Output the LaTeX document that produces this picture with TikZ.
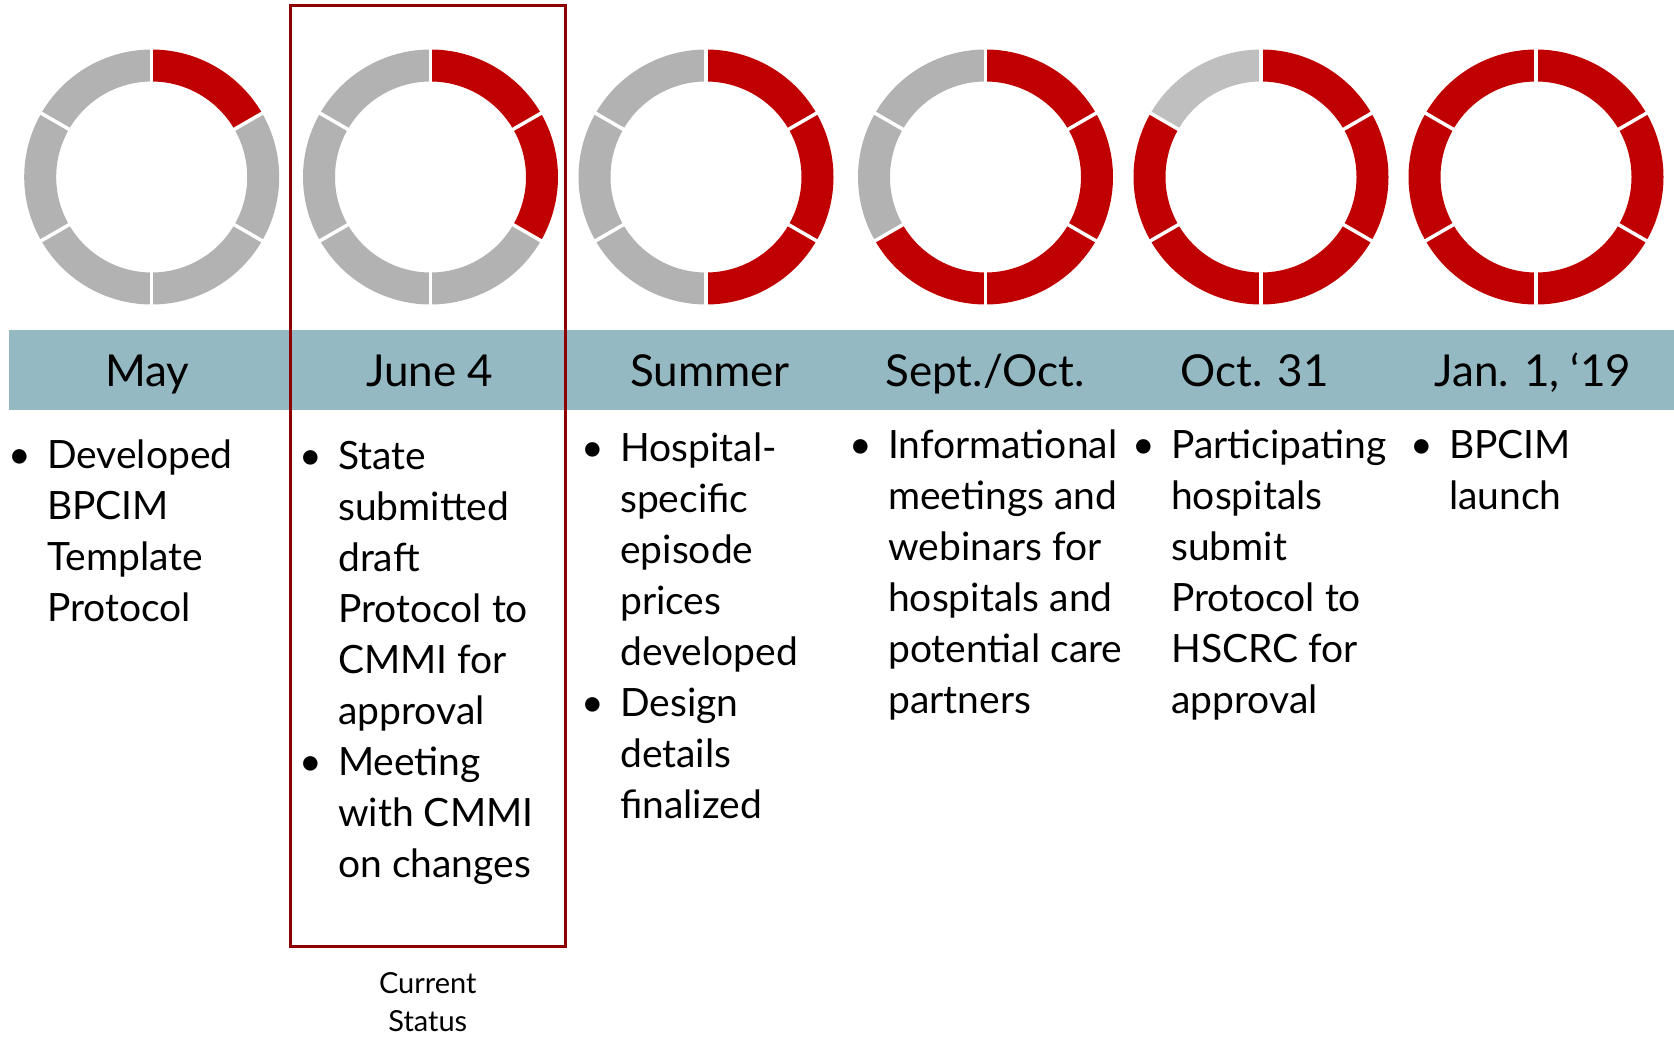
\documentclass[tikz,border=0pt]{standalone}
\usepackage{fontspec}
\setmainfont{Lato}
\usetikzlibrary{positioning}
\definecolor{ringred}{HTML}{C00000}
\definecolor{ringgray}{HTML}{B2B2B2}
\definecolor{ringlight}{HTML}{BFBFBF}
\definecolor{barblue}{HTML}{95B9C3}
\definecolor{boxred}{HTML}{8E0000}
\newcommand{\itm}{\leavevmode\strut\llap{\textbullet\hspace{16pt}}}
\tikzset{
  month/.style={anchor=base,inner sep=0pt,font=\fontsize{44}{50}\selectfont},
  steps/.style={anchor=north west,inner sep=0pt,align=left,
                font=\fontsize{39}{51}\selectfont},
  statusbox/.style={draw=boxred,line width=3pt,minimum width=274.5pt,
                    minimum height=940.5pt,inner sep=0pt},
  note/.style={align=center,inner sep=0pt,font=\fontsize{29}{37.5}\selectfont}
}

\begin{document}
\begin{tikzpicture}[x=1pt,y=1pt]
  \path[use as bounding box] (0,0) rectangle (1674,-1037);
  % month bar
  \fill[barblue] (9,-330) rectangle (1674,-410);
  % progress rings
  \foreach \cx/\nred/\gcol [count=\i] in {151.7/1/ringgray,430.5/2/ringgray,
      706/3/ringgray,985.5/4/ringgray,1261/5/ringlight,1536/6/ringgray}{
    \coordinate (ring\i) at (\cx,-177);
    \foreach \k in {0,...,5}{
      \pgfmathsetmacro{\aa}{90-60*\k}
      \pgfmathsetmacro{\ab}{30-60*\k}
      \ifnum\k<\nred \def\segcol{ringred}\else\def\segcol{\gcol}\fi
      \fill[\segcol,shift={(ring\i)}] (\aa:127.5)
        arc[start angle=\aa,end angle=\ab,radius=127.5] -- (\ab:95.5)
        arc[start angle=\ab,end angle=\aa,radius=95.5] -- cycle;
    }
    \foreach \a in {90,30,-30,-90,-150,150}
      \draw[white,line width=3.5pt,shift={(ring\i)}] (\a:92) -- (\a:131);
  }
  % month labels
  \node[month] (may) at (147.5,-386) {May};
  \node[month] (june) at (429.6,-386) {June 4};
  \node[month] (summer) at (710,-386) {Summer};
  \node[month] (septoct) at (985,-386) {Sept./Oct.};
  \node[month] (oct) at (1254.6,-386) {Oct. 31};
  \node[month] (jan) at (1533,-386) {Jan. 1, ‘19};
  % current status
  \node[statusbox] (nowbox) at (427.8,-475.8) {};
  \node[note,below=25pt of nowbox] (nowlabel) {Current\\Status};
  % milestones
  \node[steps] (maytxt) at (47,-432.3)
    {\itm Developed\\BPCIM\\Template\\Protocol};
  \node[steps] (junetxt) at (338,-433.3)
    {\itm State\\submitted\\draft\\Protocol to\\CMMI for\\approval\\
     \itm Meeting\\with CMMI\\on changes};
  \node[steps] (summertxt) at (620,-425.9)
    {\itm Hospital-\\specific\\episode\\prices\\developed\\
     \itm Design\\details\\finalized};
  \node[steps] (septtxt) at (888,-422.6)
    {\itm Informational\\meetings and\\webinars for\\hospitals and\\
     potential care\\partners};
  \node[steps] (octtxt) at (1171,-422.6)
    {\itm Participating\\hospitals\\submit\\Protocol to\\HSCRC for\\approval};
  \node[steps] (jantxt) at (1449,-422.6) {\itm BPCIM\\launch};
\end{tikzpicture}
\end{document}
